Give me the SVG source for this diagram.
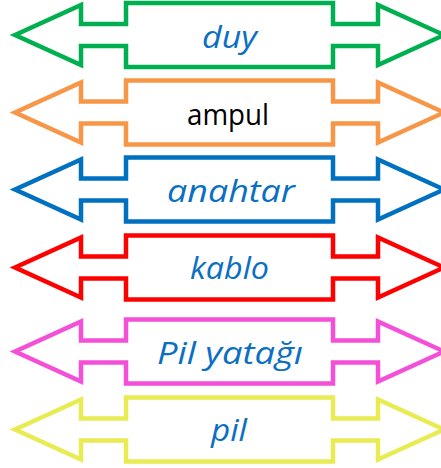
<svg xmlns="http://www.w3.org/2000/svg" xmlns:xlink="http://www.w3.org/1999/xlink" width="441" height="468" viewBox="0 0 441 468">
<style>
.arrow{fill:#ffffff;stroke-width:4.5;stroke-linejoin:miter}
.lbl{font-family:"Open Sans","Noto Sans","DejaVu Sans",sans-serif;font-size:31px;text-anchor:middle;font-weight:500}
.blue{fill:#0b6fc2;font-style:italic}
.black{fill:#000000;font-size:29px}
</style>
<defs>
<path id="dblarrow" d="M15,32 L81,2 L81,21 L126,21 L126,0 L333,0 L333,21 L378,21 L378,2 L444,32 L378,62 L378,43 L333,43 L333,64 L126,64 L126,43 L81,43 L81,62 Z"/>
</defs>
<rect width="441" height="468" fill="#ffffff"/>
<g id="connectors"></g>
<g id="node-duy">
<use xlink:href="#dblarrow" href="#dblarrow" class="arrow" stroke="#00b050" transform="translate(0,3)"/>
<text class="lbl blue" x="229.5" y="48" textLength="55" lengthAdjust="spacingAndGlyphs">duy</text>
</g>
<g id="node-ampul">
<use xlink:href="#dblarrow" href="#dblarrow" class="arrow" stroke="#f79646" transform="translate(0,80.5)"/>
<text class="lbl black" x="228" y="125" textLength="82" lengthAdjust="spacingAndGlyphs">ampul</text>
</g>
<g id="node-anahtar">
<use xlink:href="#dblarrow" href="#dblarrow" class="arrow" stroke="#0070c0" transform="translate(0,157.5)"/>
<text class="lbl blue" x="231" y="202" textLength="128" lengthAdjust="spacingAndGlyphs">anahtar</text>
</g>
<g id="node-kablo">
<use xlink:href="#dblarrow" href="#dblarrow" class="arrow" stroke="#ff0000" transform="translate(0,235.5)"/>
<text class="lbl blue" x="229.5" y="279" textLength="79" lengthAdjust="spacingAndGlyphs">kablo</text>
</g>
<g id="node-pil-yatagi">
<use xlink:href="#dblarrow" href="#dblarrow" class="arrow" stroke="#f34fd8" transform="translate(0,319.5)"/>
<text class="lbl blue" x="230" y="364" textLength="146" lengthAdjust="spacingAndGlyphs">Pil yatağı</text>
</g>
<g id="node-pil">
<use xlink:href="#dblarrow" href="#dblarrow" class="arrow" stroke="#e8eb52" transform="translate(0,397.5)"/>
<text class="lbl blue" x="229" y="441" textLength="36" lengthAdjust="spacingAndGlyphs">pil</text>
</g>
</svg>
